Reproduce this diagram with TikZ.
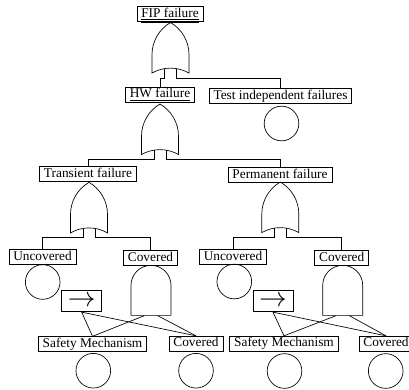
\documentclass[tikz,border=0pt]{standalone}
\usepackage{fontspec}
\setmainfont{Liberation Serif}
\usetikzlibrary{shapes.gates.logic.US}

\begin{document}
\begin{tikzpicture}[x=0.75pt,y=-0.75pt,line width=0.5pt,
  event/.style={draw,rectangle,inner xsep=3.3pt,inner ysep=1pt,text height=7pt,text depth=2pt},
  basic/.style={draw,circle,minimum size=26pt,inner sep=0pt},
  orgate/.style={draw,or gate US,logic gate inputs=nn,rotate=90,minimum width=37pt,minimum height=27.75pt,inner sep=0pt},
  andgate/.style={draw,and gate US,logic gate inputs=nn,rotate=90,minimum width=33pt,minimum height=30pt,inner sep=0pt},
  seqbox/.style={draw,rectangle,minimum width=30pt,minimum height=15.75pt,inner sep=0pt}]
  \useasboundingbox (0,0) rectangle (409,389);
  % -=-=-=-=- TOP EVENT -=-=-=-=-
  \node[event] (fip) at (170,14) {\underline{\underline{FIP failure}}};
  \node[orgate] (g1) at (170.5,51.5) {};
  \node[event] (hw) at (160,94.5) {\underline{\underline{HW failure}}};
  \node[event] (tif) at (280.5,96) {Test independent failures};
  \node[basic] (tifc) at (281.5,123.5) {};
  \draw (g1.input 1) -- ++(0,9) -| (hw.north);
  \draw (g1.input 2) -- ++(0,9) -| (tif.north);
  % -=-=-=-=- HW FAILURE -=-=-=-=-
  \node[orgate] (g2) at (160,133) {};
  \node[event] (tr) at (88,174) {Transient failure};
  \node[event] (pf) at (280,175) {Permanent failure};
  \draw (g2.input 1) -- ++(0,9) -| (tr.north);
  \draw (g2.input 2) -- ++(0,9) -| (pf.north);
  % -=-=-=-=- TRANSIENT -=-=-=-=-
  \node[orgate] (g3) at (89,211.3) {};
  \node[event] (unc1) at (42.5,257) {Uncovered};
  \node[event] (cov1) at (150.5,258) {Covered};
  \node[basic] (uncc1) at (42.7,282) {};
  \node[andgate] (and1) at (151,292) {};
  \node[seqbox] (seq1) at (81.7,301.3) {\huge$\rightarrow$};
  \node[event] (sm1) at (92.5,344) {Safety Mechanism};
  \node[event] (cv1) at (196,343.5) {Covered};
  \node[basic] (smc1) at (93.3,370.7) {};
  \node[basic] (cvc1) at (196,370.7) {};
  \draw (g3.input 1) -- ++(0,9) -| (unc1.north);
  \draw (g3.input 2) -- ++(0,9) -| (cov1.north);
  \draw (seq1.south) -- (sm1.north);
  \draw (seq1.south) -- (cv1.north);
  \draw (and1.input 1) -- (sm1.north);
  \draw (and1.input 2) -- (cv1.north);
  % -=-=-=-=- PERMANENT -=-=-=-=-
  \node[orgate] (g4) at (280.3,211) {};
  \node[event] (unc2) at (233,257) {Uncovered};
  \node[event] (cov2) at (341.7,258) {Covered};
  \node[basic] (uncc2) at (234.3,281.5) {};
  \node[andgate] (and2) at (342.7,292) {};
  \node[seqbox] (seq2) at (273,301.3) {\huge$\rightarrow$};
  \node[event] (sm2) at (284,343.5) {Safety Mechanism};
  \node[event] (cv2) at (386,343.5) {Covered};
  \node[basic] (smc2) at (284.5,371) {};
  \node[basic] (cvc2) at (385.7,371) {};
  \draw (g4.input 1) -- ++(0,9) -| (unc2.north);
  \draw (g4.input 2) -- ++(0,9) -| (cov2.north);
  \draw (seq2.south) -- (sm2.north);
  \draw (seq2.south) -- (cv2.north);
  \draw (and2.input 1) -- (sm2.north);
  \draw (and2.input 2) -- (cv2.north);
\end{tikzpicture}
\end{document}
